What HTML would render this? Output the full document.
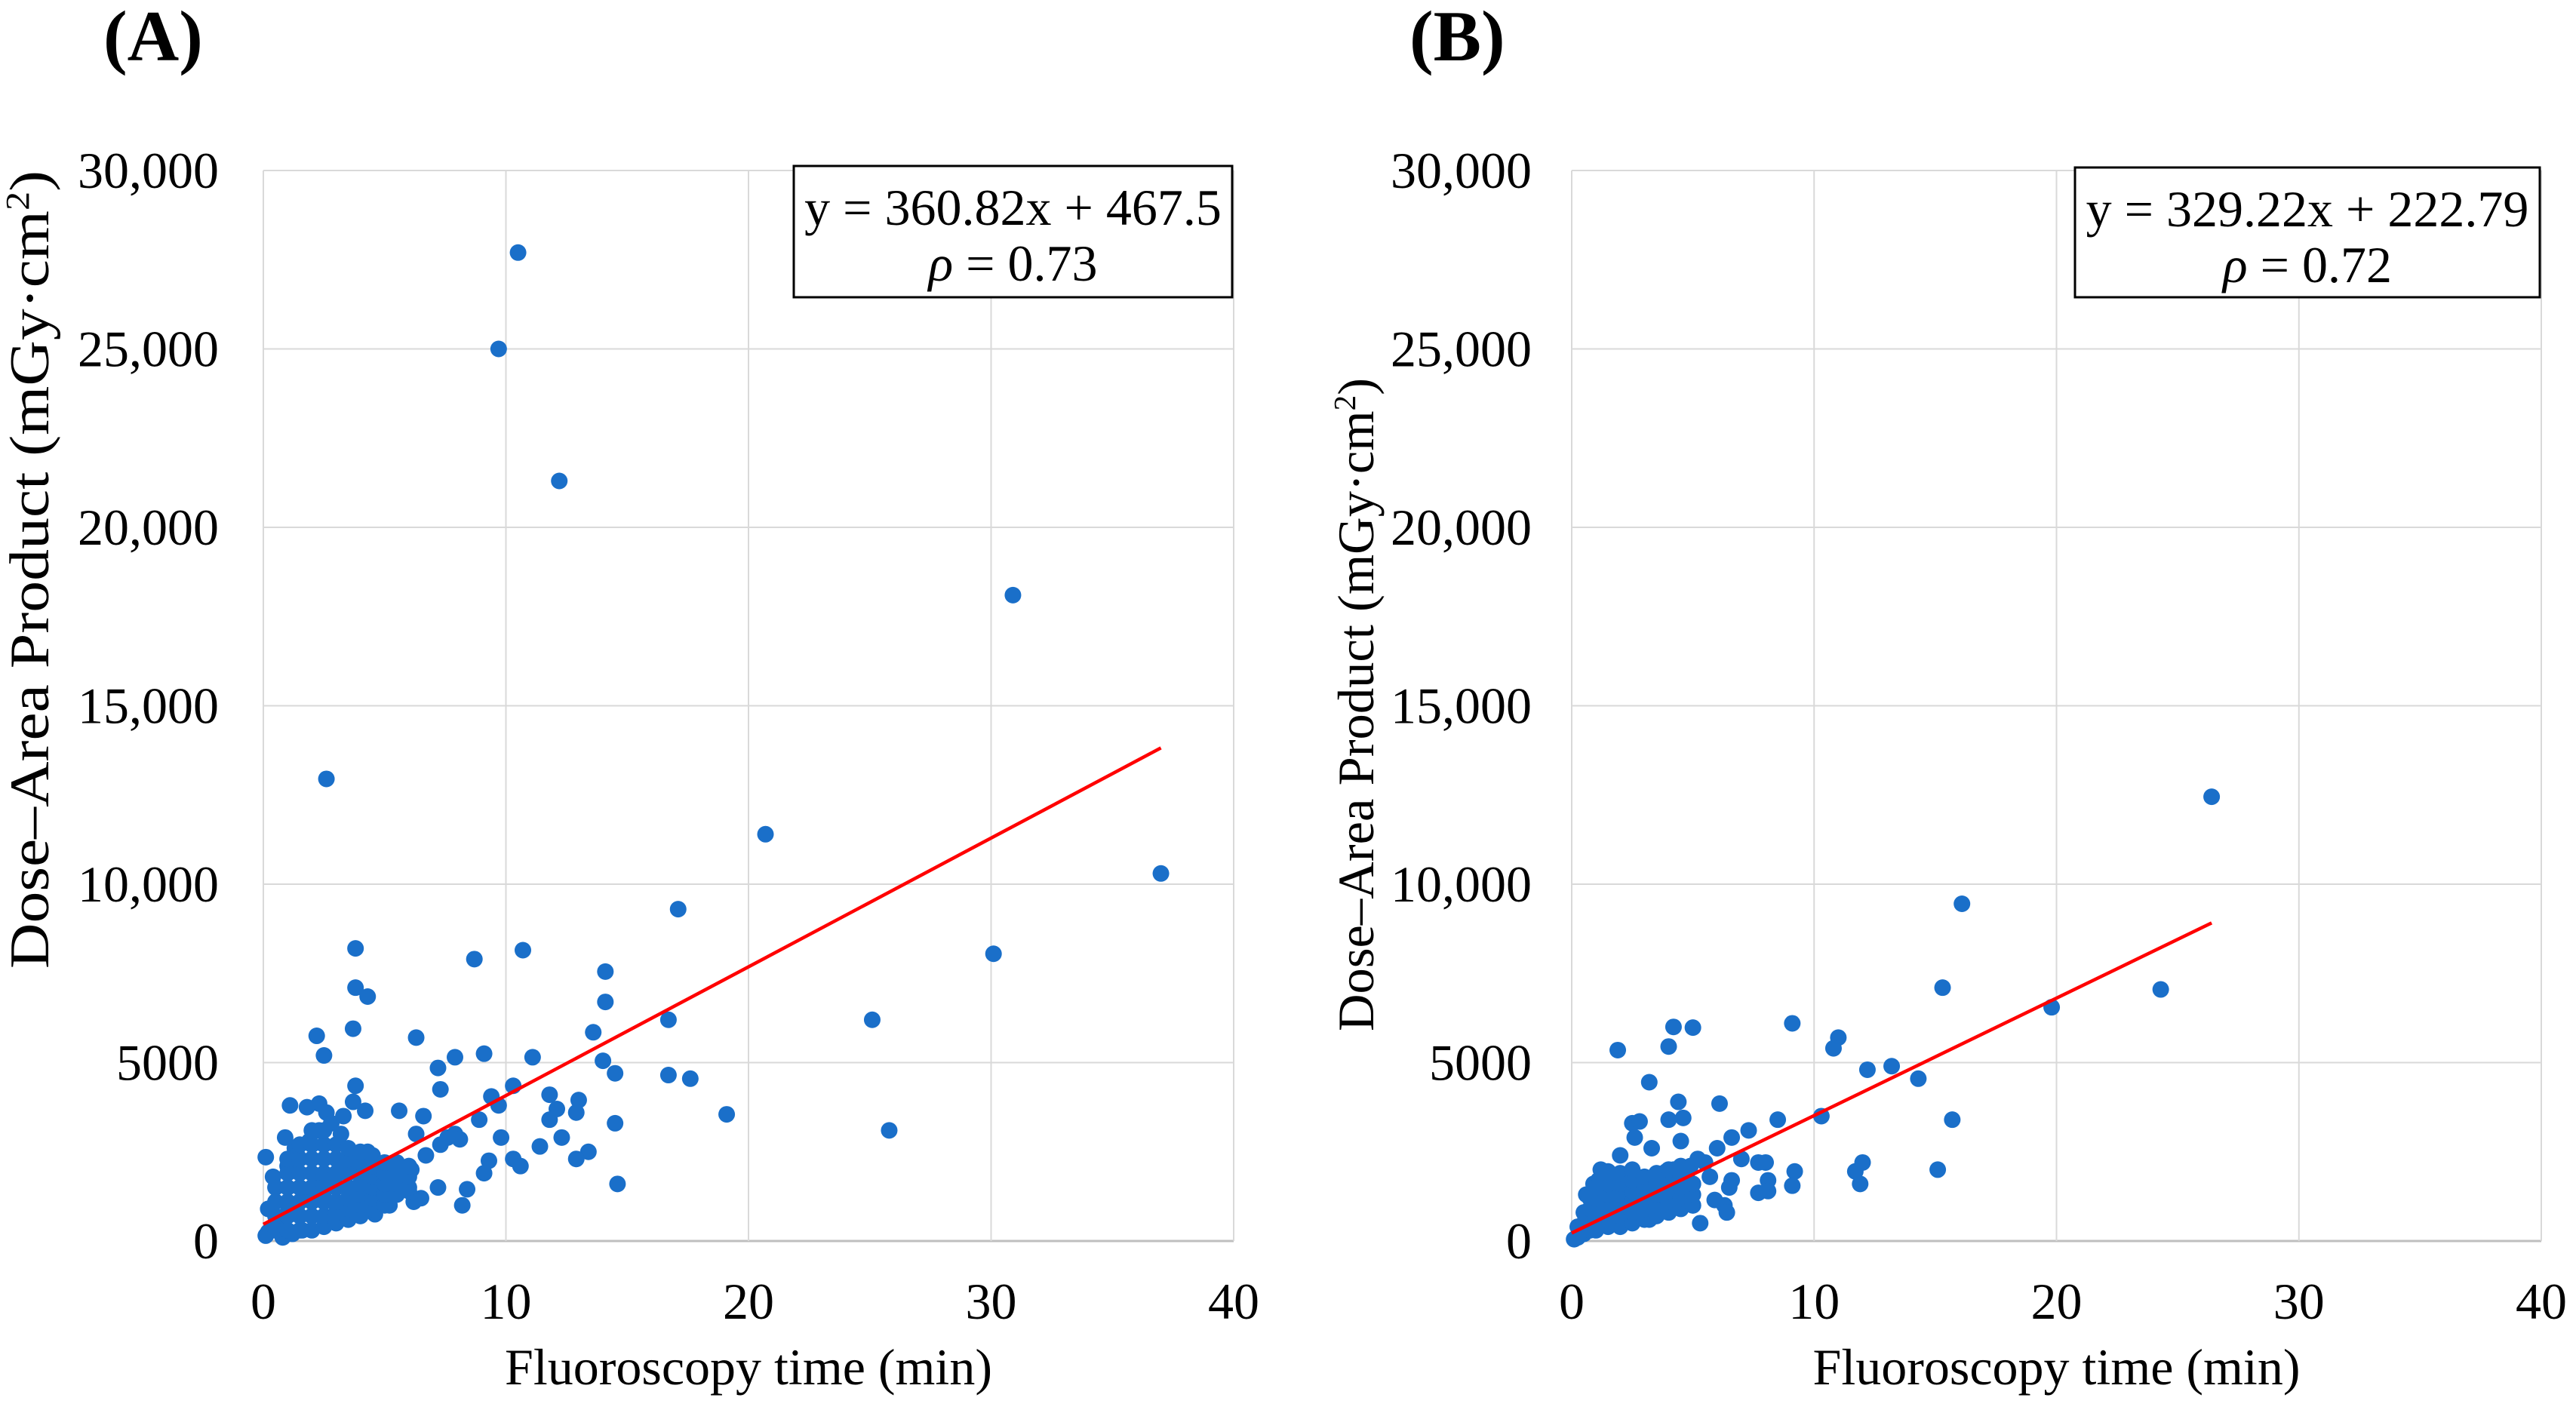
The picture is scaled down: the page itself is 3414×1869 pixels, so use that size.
<!DOCTYPE html>
<html><head><meta charset="utf-8"><style>
html,body{margin:0;padding:0;background:#fff;}
svg{display:block;font-family:"Liberation Serif",serif;}
</style></head><body>
<svg id="fig" width="3414" height="1869" viewBox="0 0 3414 1869"></svg>
<script>
const xTicks=[0,10,20,30,40];
const yTicks=[0,5000,10000,15000,20000,25000,30000];
const yTickLabels=["0","5000","10,000","15,000","20,000","25,000","30,000"];
const xTickLabels=["0","10","20","30","40"];
const fitA=[360.82,467.5,37];
const fitB=[329.22,222.79,26.4];
const eqA=["y = 360.82x + 467.5","0.73"];
const eqB=["y = 329.22x + 222.79","0.72"];
const xA=[10.5,9.7,12.2,30.9,2.6,20.7,37,17.1,30.1,3.8,8.7,10.7,14.1,3.8,4.3,14.1,16.7,25.1,3.7,13.6,2.2,6.3,2.5,7.9,9.1,11.1,14.0,16.7,17.6,14.5,3.8,7.2,10.3,9.4,11.8,13.0,12.1,12.9,11.8,19.1,25.8,14.5,12.3,13.4,11.4,12.9,10.3,10.6,9.3,14.6,9.1,8.4,8.2,7.2,6.5,6.2,9.8,9.7,8.9,7.3,7.9,7.3,8.1,6.6,5.6,6.3,0.1,1.1,1.8,2.3,2.6,3.3,4.2,3.7,0.2,0.4,0.9,1.3,
0.1,0.2,0.3,0.4,0.5,0.6,0.7,0.8,0.9,1.0,1.1,1.2,1.3,1.4,1.5,1.6,1.7,1.8,1.9,2.0,2.1,2.2,2.3,2.4,2.5,2.6,2.7,2.8,2.9,3.0,3.1,3.2,3.3,3.4,3.5,3.6,3.7,3.8,3.9,4.0,4.1,4.2,4.3,4.4,4.5,4.6,4.7,4.8,4.9,5.0,5.1,5.2,5.3,5.4,5.5,5.6,5.7,5.8,6.0,
1.0,1.4,1.9,2.3,2.8,3.2,2.0,2.5,1.6,1.2,0.8,2.9,3.5,4.6,5.2,6.1,6.7,7.6];
const yA=[27700,25000,21300,18100,12950,11400,10300,9300,8050,8200,7900,8150,7550,7100,6850,6700,6200,6200,5950,5850,5750,5700,5200,5150,5250,5150,5050,4650,4550,4700,4350,4850,4350,4050,4100,3950,3700,3600,3400,3550,3100,3300,2900,2500,2650,2300,2300,2100,2250,1600,1900,1450,1000,1500,1200,1100,2900,3800,3400,4250,3000,2700,2850,3500,3650,3000,2350,3800,3750,3850,3600,3500,3650,3900,900,1800,2900,2600,
150,250,300,400,450,500,550,600,700,800,850,900,950,1000,1100,1150,1200,1250,1300,1350,1400,1450,1500,1550,1600,1650,1700,1750,1800,1850,1900,1950,2000,2050,2100,2150,2200,2250,2300,2350,2400,2450,2500,2400,2300,2200,2100,2000,1900,1850,1800,1750,1700,1650,1600,1550,1500,1500,1400,
2100,2400,2800,3100,3300,3000,1500,1200,300,200,100,700,600,750,1000,2000,2400,2900];
const clusterXA=[0.5,0.5,0.5,0.5,1,1,1,1,1,1,1.5,1.5,1.5,1.5,1.5,1.5,1.5,2,2,2,2,2,2,2,2,2.5,2.5,2.5,2.5,2.5,2.5,2.5,2.5,3,3,3,3,3,3,3,3.5,3.5,3.5,3.5,3.5,3.5,3.5,4,4,4,4,4,4,4,4.5,4.5,4.5,4.5,4.5,4.5,5,5,5,5,5,5.5,5.5,5.5,5.5,6,6,6];
const clusterYA=[300,700,1100,1500,300,700,1100,1500,1900,2300,300,700,1100,1500,1900,2300,2700,300,700,1100,1500,1900,2300,2700,3100,400,700,1100,1500,1900,2300,2700,3100,500,800,1100,1500,1900,2300,2700,600,900,1200,1500,1900,2300,2600,700,1000,1300,1600,1900,2200,2500,900,1200,1500,1800,2100,2400,1000,1300,1600,1900,2200,1300,1600,1900,2200,1500,1800,2100];
const xB=[26.4,16.1,15.3,24.3,19.8,9.1,4.2,5.0,11.0,10.8,4.0,1.9,12.2,13.2,14.3,3.2,4.4,6.1,15.7,10.3,8.5,4.0,4.6,7.3,6.6,2.5,2.8,3.3,12.0,11.7,11.9,15.1,9.2,9.1,8.1,8.1,7.7,8.0,7.7,7.0,6.6,6.3,6.4,5.3,5.0,5.9,5.5,4.9,4.5,2.0,2.6,1.5,1.2,
0.1,0.2,0.3,0.4,0.5,0.6,0.7,0.8,0.9,1.0,1.1,1.2,1.3,1.4,1.5,1.6,1.7,1.8,1.9,2.0,2.1,2.2,2.3,2.4,2.5,2.6,2.7,2.8,2.9,3.0,3.1,3.2,3.3,3.4,3.5,3.6,3.7,3.8,3.9,4.0,4.2,4.4,4.6,4.8,5.0,
0.6,0.9,1.1,1.4,1.7,2.0,2.3,2.6,2.9,3.2,3.5,3.8,4.1,5.2,5.7,6.0,6.5];
const yB=[12450,9450,7100,7050,6550,6100,6000,5980,5700,5400,5450,5350,4800,4900,4550,4450,3900,3850,3400,3500,3400,3400,3450,3100,2900,3300,3350,2600,2200,1950,1600,2000,1950,1550,1700,1400,2200,2200,1350,2300,1700,1000,800,500,1000,1150,2200,2100,2800,2400,2900,1950,2000,
50,100,150,200,250,300,350,400,450,500,550,600,650,700,750,800,850,900,950,1000,1050,1100,1150,1200,1250,1300,1350,1400,1450,1500,1550,1600,1650,1700,1750,1800,1850,1900,1950,2000,2000,1900,1800,1700,1600,
1300,1600,1700,1500,1200,1000,800,600,700,600,800,1000,1200,2300,1800,2600,1500];
const clusterXB=[0.25,0.25,0.5,0.5,0.5,0.75,0.75,0.75,0.75,1,1,1,1,1,1.5,1.5,1.5,1.5,1.5,1.5,2,2,2,2,2,2,2.5,2.5,2.5,2.5,2.5,2.5,3,3,3,3,3,3.5,3.5,3.5,3.5,3.5,4,4,4,4,4,4.5,4.5,4.5,4.5,4.5,5,5,5];
const clusterYB=[100,400,200,500,800,300,600,900,1200,300,600,900,1200,1500,400,700,1000,1300,1600,1900,400,700,1000,1300,1600,1900,500,800,1100,1400,1700,2000,600,900,1200,1500,1800,700,1000,1300,1600,1900,800,1100,1400,1700,2000,900,1200,1500,1800,2100,1000,1300,1600];
const NS="http://www.w3.org/2000/svg";
const svg=document.getElementById('fig');
function mk(tag,attrs,parent){const e=document.createElementNS(NS,tag);for(const k in attrs)e.setAttribute(k,attrs[k]);(parent||svg).appendChild(e);return e;}
function panel(p){
  const g=mk('g',{});
  
  
  const sx=v=>p.x0+(v-0)/40*(p.x1-p.x0);
  const sy=v=>p.y0-(v/30000)*(p.y0-p.y1);
  yTicks.forEach((t,i)=>{
    const l=mk('line',{x1:p.x0,x2:p.x1,y1:sy(t),y2:sy(t),stroke:i==0?'#bfbfbf':'#d9d9d9','stroke-width':i==0?3:2},g);
    
    
    const tx=mk('text',{x:p.ylx,y:sy(t)+23,'text-anchor':'end','font-size':68,fill:'#000'},g);
    tx.textContent=yTickLabels[i];
    
    
  });
  xTicks.forEach((t,i)=>{
    if(i>0){const l=mk('line',{x1:sx(t),x2:sx(t),y1:p.y1,y2:p.y0,stroke:'#d9d9d9','stroke-width':2},g);
    
    }
    const tx=mk('text',{x:sx(t),y:1748,'text-anchor':'middle','font-size':68,fill:'#000'},g);
    tx.textContent=xTickLabels[i];
    
    
  });
  const ax=mk('line',{x1:p.x0,x2:p.x0,y1:p.y1,y2:p.y0,stroke:'#d9d9d9','stroke-width':2},g);
  
  
  const xs=p.xs.concat(p.cx), ys=p.ys.concat(p.cy);
  xs.forEach((xv,i)=>{
    const c=mk('circle',{cx:sx(xv),cy:sy(ys[i]),r:11,fill:'#1a6fc9'},g);
    
    
  });
  const f=p.fit;
  const ln=mk('line',{x1:sx(0),y1:sy(f[1]),x2:sx(f[2]),y2:sy(f[0]*f[2]+f[1]),stroke:'#ff0000','stroke-width':4.5},g);
  
  
  const bx=mk('rect',{x:p.box[0],y:p.box[1],width:p.box[2],height:p.box[3],fill:'#fff',stroke:'#000','stroke-width':3},g);
  
  
  const cx=p.box[0]+p.box[2]/2;
  const t1=mk('text',{x:cx,y:p.box[1]+78,'text-anchor':'middle','font-size':68},g);
  t1.textContent=p.eq[0];
  
  
  const t2=mk('text',{x:cx,y:p.box[1]+152,'text-anchor':'middle','font-size':68},g);
  t2.innerHTML='<tspan font-style="italic">ρ</tspan> = '+p.eq[1];
  
  
  const xt=mk('text',{x:(p.x0+p.x1)/2,y:1835,'text-anchor':'middle','font-size':68},g);
  xt.textContent='Fluoroscopy time (min)';
  
  
  const yt=mk('text',{x:0,y:0,'text-anchor':'middle','font-size':p.ytf,textLength:p.ytl,lengthAdjust:'spacingAndGlyphs',transform:`translate(${p.ytx},${p.yty}) rotate(-90)`},g);
  yt.innerHTML='Dose–Area Product (mGy·cm<tspan font-size="'+(p.ytf*0.6)+'" dy="-'+(p.ytf*0.35)+'">2</tspan><tspan dy="'+(p.ytf*0.35)+'">)</tspan>';
  
  
  const pl=mk('text',{x:p.plx,y:80,'font-size':95,'font-weight':'bold'},g);
  pl.textContent=p.label;
  
  
}
panel({name:'panel-a',x0:349,x1:1635,y0:1645,y1:226,ylx:290,xs:xA,ys:yA,cx:clusterXA,cy:clusterYA,fit:fitA,eq:eqA,box:[1052,220,581,174],ytx:64,yty:755,ytf:74,ytl:1058,plx:137,label:'(A)'});
panel({name:'panel-b',x0:2083,x1:3368,y0:1645,y1:226,ylx:2030,xs:xB,ys:yB,cx:clusterXB,cy:clusterYB,fit:fitB,eq:eqB,box:[2750,222,616,172],ytx:1820,yty:934,ytf:68,ytl:866,plx:1868,label:'(B)'});
</script>
</body></html>
